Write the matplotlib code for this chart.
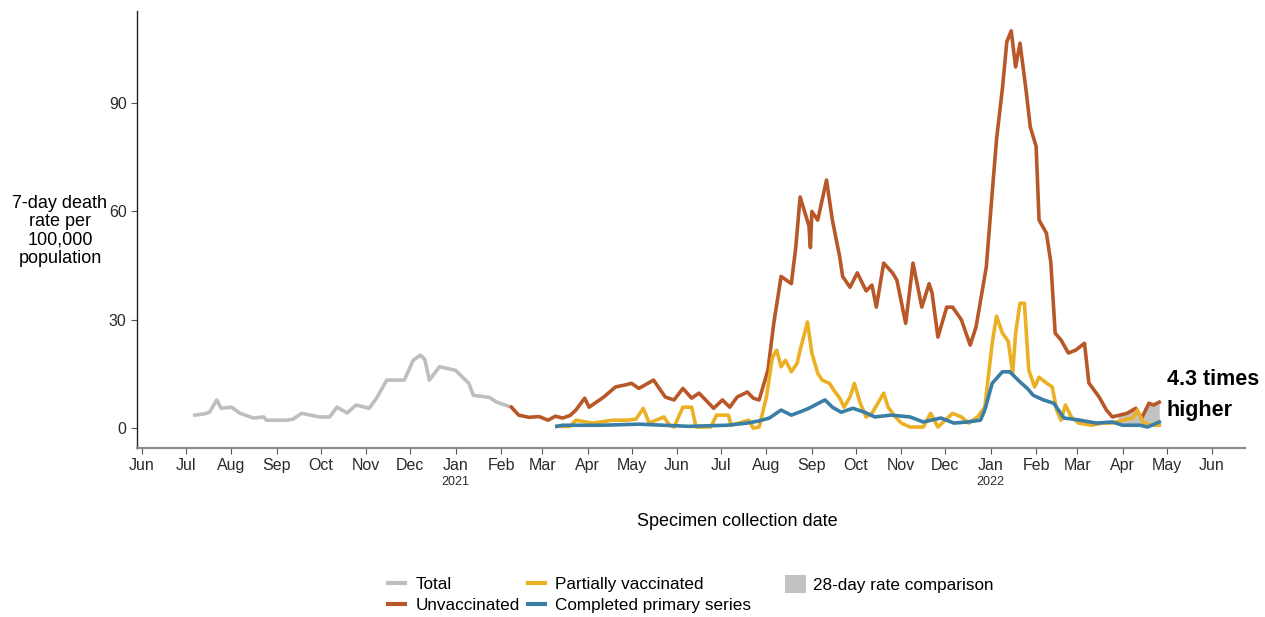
import numpy as np
import pandas as pd
import matplotlib
matplotlib.use("Agg")
import matplotlib.pyplot as plt
import matplotlib.dates as mdates
from matplotlib.lines import Line2D
from matplotlib.patches import Patch

plt.rcParams['font.family'] = ['Liberation Sans', 'DejaVu Sans']

# ------------------ DATA ------------------
total_dates = ["2020-07-07", "2020-07-14", "2020-07-17", "2020-07-22", "2020-07-25", "2020-08-01",
               "2020-08-07", "2020-08-16", "2020-08-23", "2020-08-25", "2020-09-08", "2020-09-12",
               "2020-09-18", "2020-09-30", "2020-10-07", "2020-10-12", "2020-10-19", "2020-10-25",
               "2020-11-03", "2020-11-08", "2020-11-15", "2020-11-27", "2020-12-03", "2020-12-08",
               "2020-12-11", "2020-12-14", "2020-12-21", "2021-01-01", "2021-01-10", "2021-01-13",
               "2021-01-24", "2021-01-29", "2021-02-08"]
total_vals = [3.6, 4.0, 4.4, 7.8, 5.5, 5.8, 4.1, 2.8, 3.1, 2.2, 2.2, 2.5, 4.1, 3.1, 3.1, 5.8, 4.2,
              6.4, 5.5, 8.3, 13.3, 13.3, 18.8, 20.2, 19.0, 13.3, 17.0, 16.0, 12.4, 9.1, 8.5, 7.2, 5.8]

unvax_dates = ["2021-02-08", "2021-02-13", "2021-02-20", "2021-02-27", "2021-03-05", "2021-03-10",
               "2021-03-15", "2021-03-20", "2021-03-24", "2021-03-30", "2021-04-02", "2021-04-12",
               "2021-04-20", "2021-04-26", "2021-05-01", "2021-05-06", "2021-05-16", "2021-05-24",
               "2021-05-30", "2021-06-05", "2021-06-11", "2021-06-16", "2021-06-26", "2021-07-02",
               "2021-07-07", "2021-07-12", "2021-07-19", "2021-07-23", "2021-07-27", "2021-08-02",
               "2021-08-06", "2021-08-11", "2021-08-18", "2021-08-21", "2021-08-24", "2021-08-30",
               "2021-08-31", "2021-09-01", "2021-09-05", "2021-09-11", "2021-09-15", "2021-09-20",
               "2021-09-22", "2021-09-27", "2021-10-02", "2021-10-08", "2021-10-12", "2021-10-15",
               "2021-10-20", "2021-10-26", "2021-10-29", "2021-11-04", "2021-11-09", "2021-11-15",
               "2021-11-20", "2021-11-22", "2021-11-26", "2021-12-02", "2021-12-06", "2021-12-12",
               "2021-12-18", "2021-12-22", "2021-12-29", "2022-01-02", "2022-01-05", "2022-01-09",
               "2022-01-12", "2022-01-15", "2022-01-18", "2022-01-21", "2022-01-25", "2022-01-28",
               "2022-02-01", "2022-02-03", "2022-02-08", "2022-02-11", "2022-02-14", "2022-02-18",
               "2022-02-23", "2022-02-28", "2022-03-06", "2022-03-09", "2022-03-16", "2022-03-21",
               "2022-03-25", "2022-04-04", "2022-04-10", "2022-04-14", "2022-04-19", "2022-04-22",
               "2022-04-26"]
unvax_vals = [5.8, 3.6, 3.0, 3.2, 2.2, 3.3, 2.8, 3.5, 5.0, 8.3, 5.8, 8.6, 11.4, 11.9, 12.4, 11.0,
              13.3, 8.6, 7.8, 11.0, 8.3, 9.7, 5.5, 7.8, 5.8, 8.6, 10.0, 8.3, 7.8, 16.0, 29.0, 42.0,
              40.0, 50.0, 64.0, 56.0, 50.0, 60.0, 57.6, 68.7, 57.6, 47.4, 42.0, 39.0, 43.0, 38.0,
              39.6, 33.5, 45.7, 43.0, 41.0, 29.0, 45.7, 33.5, 40.0, 37.4, 25.2, 33.5, 33.5, 30.0,
              23.0, 28.0, 44.6, 65.0, 80.0, 94.0, 107.0, 110.0, 100.0, 106.6, 94.0, 83.4, 78.0,
              57.6, 54.0, 46.0, 26.3, 24.4, 20.8, 21.6, 23.5, 12.5, 8.6, 5.0, 3.1, 4.1, 5.5, 2.8,
              6.9, 6.4, 7.2]

partial_dates = ["2021-03-11", "2021-03-20", "2021-03-24", "2021-04-04", "2021-04-10", "2021-04-18",
                 "2021-04-28", "2021-05-04", "2021-05-09", "2021-05-13", "2021-05-23", "2021-05-27",
                 "2021-05-30", "2021-06-05", "2021-06-11", "2021-06-14", "2021-06-24", "2021-06-28",
                 "2021-07-06", "2021-07-08", "2021-07-20", "2021-07-23", "2021-07-27", "2021-07-29",
                 "2021-08-01", "2021-08-05", "2021-08-08", "2021-08-11", "2021-08-14", "2021-08-18",
                 "2021-08-22", "2021-08-24", "2021-08-29", "2021-09-01", "2021-09-05", "2021-09-08",
                 "2021-09-13", "2021-09-16", "2021-09-20", "2021-09-23", "2021-09-27", "2021-09-30",
                 "2021-10-04", "2021-10-08", "2021-10-12", "2021-10-16", "2021-10-20", "2021-10-23",
                 "2021-10-28", "2021-11-01", "2021-11-07", "2021-11-16", "2021-11-21", "2021-11-26",
                 "2021-12-06", "2021-12-12", "2021-12-17", "2021-12-23", "2021-12-28", "2022-01-02",
                 "2022-01-05", "2022-01-09", "2022-01-13", "2022-01-16", "2022-01-18", "2022-01-21",
                 "2022-01-24", "2022-01-27", "2022-01-31", "2022-02-03", "2022-02-08", "2022-02-12",
                 "2022-02-15", "2022-02-18", "2022-02-21", "2022-02-25", "2022-03-02", "2022-03-11",
                 "2022-03-18", "2022-03-25", "2022-04-01", "2022-04-08", "2022-04-11", "2022-04-15",
                 "2022-04-20", "2022-04-26"]
partial_vals = [0.5, 0.5, 2.2, 1.4, 1.7, 2.2, 2.2, 2.5, 5.5, 1.4, 3.1, 0.8, 0.3, 5.8, 5.8, 0.3,
                0.3, 3.6, 3.6, 0.8, 2.2, 0.0, 0.3, 3.6, 8.6, 19.5, 21.6, 17.0, 18.8, 15.6, 18.0,
                21.6, 29.4, 20.8, 15.2, 13.3, 12.4, 10.5, 8.3, 5.8, 8.6, 12.4, 6.9, 3.1, 4.1, 6.9,
                9.7, 5.8, 3.1, 1.4, 0.3, 0.3, 4.1, 0.3, 4.1, 3.1, 1.4, 3.1, 5.8, 23.5, 31.0, 26.3,
                24.0, 15.2, 26.3, 34.6, 34.6, 16.0, 11.4, 14.1, 12.5, 11.4, 5.0, 2.2, 6.4, 3.1,
                1.4, 0.8, 1.4, 1.4, 2.2, 2.8, 5.0, 1.7, 0.8, 0.8]

complete_dates = ["2021-03-11", "2021-03-15", "2021-04-10", "2021-05-06", "2021-06-09", "2021-07-05",
                  "2021-07-19", "2021-07-27", "2021-08-03", "2021-08-11", "2021-08-18", "2021-08-24",
                  "2021-08-30", "2021-09-06", "2021-09-10", "2021-09-15", "2021-09-21", "2021-09-29",
                  "2021-10-07", "2021-10-14", "2021-10-25", "2021-11-07", "2021-11-16", "2021-11-28",
                  "2021-12-07", "2021-12-16", "2021-12-25", "2021-12-28", "2022-01-02", "2022-01-09",
                  "2022-01-14", "2022-01-21", "2022-01-26", "2022-01-30", "2022-02-06", "2022-02-13",
                  "2022-02-20", "2022-03-03", "2022-03-14", "2022-03-25", "2022-04-01", "2022-04-13",
                  "2022-04-18", "2022-04-26"]
complete_vals = [0.5, 0.8, 0.8, 1.1, 0.5, 0.8, 1.4, 2.0, 2.8, 5.0, 3.6, 4.5, 5.5, 7.0, 7.8, 5.8,
                 4.4, 5.5, 4.4, 3.1, 3.6, 3.1, 1.7, 2.8, 1.4, 1.7, 2.2, 5.0, 12.4, 15.6, 15.6, 12.8,
                 11.0, 9.1, 7.8, 6.9, 2.8, 2.2, 1.4, 1.7, 0.8, 0.8, 0.3, 1.7]

compare_start = "2022-03-29"   # 28-day comparison window
compare_end = "2022-04-26"
ratio_text = "4.3 times\nhigher"

# colours
C_TOTAL = "#bebebe"
C_UNVAX = "#b85828"
C_PARTIAL = "#ebb023"
C_COMPLETE = "#3a7ea6"
C_FILL = "#c2c2c2"
# --------------------------------------------------

total_d = pd.to_datetime(total_dates)
unvax_d = pd.to_datetime(unvax_dates)
partial_d = pd.to_datetime(partial_dates)
complete_d = pd.to_datetime(complete_dates)

fig = plt.figure(figsize=(12.65, 6.17), dpi=100)
ax = fig.add_axes([137 / 1265, 1 - 448 / 617, (1245 - 137) / 1265, (448 - 11) / 617])

# grey 28-day comparison band between unvaccinated and completed
win = pd.date_range(compare_start, compare_end, freq="D")
wx = mdates.date2num(win)
up = np.interp(wx, mdates.date2num(unvax_d), unvax_vals)
lo = np.interp(wx, mdates.date2num(complete_d), complete_vals)
ax.fill_between(win, lo, up, color=C_FILL, lw=0, zorder=1)

lw = 2.6
ax.plot(total_d, total_vals, color=C_TOTAL, lw=lw, zorder=2)
ax.plot(unvax_d, unvax_vals, color=C_UNVAX, lw=lw, zorder=3)
ax.plot(partial_d, partial_vals, color=C_PARTIAL, lw=lw, zorder=4)
ax.plot(complete_d, complete_vals, color=C_COMPLETE, lw=lw, zorder=5)

# axes limits / ticks
ax.set_xlim(pd.Timestamp("2020-05-28 14:00"), pd.Timestamp("2022-06-23 12:00"))
ax.set_ylim(-5.5, 115.5)
ax.set_yticks([0, 30, 60, 90])
ax.xaxis.set_major_locator(mdates.MonthLocator())
ax.xaxis.set_major_formatter(mdates.DateFormatter("%b"))
ax.tick_params(axis="both", labelsize=11.5, labelcolor="#2a2a2a", color="#555555", length=4, width=0.8)
ax.tick_params(axis="x", pad=3)

for side in ["top", "right"]:
    ax.spines[side].set_visible(False)
ax.spines["left"].set_color("#222222")
ax.spines["bottom"].set_color("#8c8c8c")
ax.spines["bottom"].set_linewidth(1.6)
ax.spines["left"].set_linewidth(1.0)

# year labels under January
for yr in ["2021", "2022"]:
    ax.annotate(yr, xy=(pd.Timestamp(yr + "-01-01"), 0), xycoords=("data", "axes fraction"),
                xytext=(0, -34), textcoords="offset pixels", ha="center", va="center",
                fontsize=9, color="#2a2a2a")

# axis titles
fig.text(60 / 1265, 1 - 231 / 617, "7-day death\nrate per\n100,000\npopulation",
         ha="center", va="center", fontsize=13, linespacing=1.1)
fig.text(737 / 1265, 1 - 521 / 617, "Specimen collection date", ha="center", va="center", fontsize=13)

# ratio annotation
fig.text(1167 / 1265, 1 - 395 / 617, ratio_text, ha="left", va="center", fontsize=15.5,
         fontweight="bold", linespacing=1.6)

# legend: two line columns, then the comparison patch on its own
line_handles = [Line2D([], [], color=c, lw=3) for c in [C_TOTAL, C_UNVAX, C_PARTIAL, C_COMPLETE]]
line_labels = ["Total", "Unvaccinated", "Partially vaccinated", "Completed primary series"]
fig.legend(line_handles, line_labels, loc="center left",
           bbox_to_anchor=(388 / 1265, 1 - 595 / 617), ncol=2, frameon=False, fontsize=12.3,
           handlelength=1.0, handletextpad=0.6, columnspacing=0.5, labelspacing=0.38,
           borderpad=0, borderaxespad=0)
fig.legend([Patch(facecolor=C_FILL, edgecolor="none")], ["28-day rate comparison"],
           loc="center left", bbox_to_anchor=(785 / 1265, 1 - 584 / 617), frameon=False,
           fontsize=12.3, handlelength=1.2, handleheight=1.25, handletextpad=0.45,
           borderpad=0, borderaxespad=0)

fig.savefig("out.png", dpi=100)
